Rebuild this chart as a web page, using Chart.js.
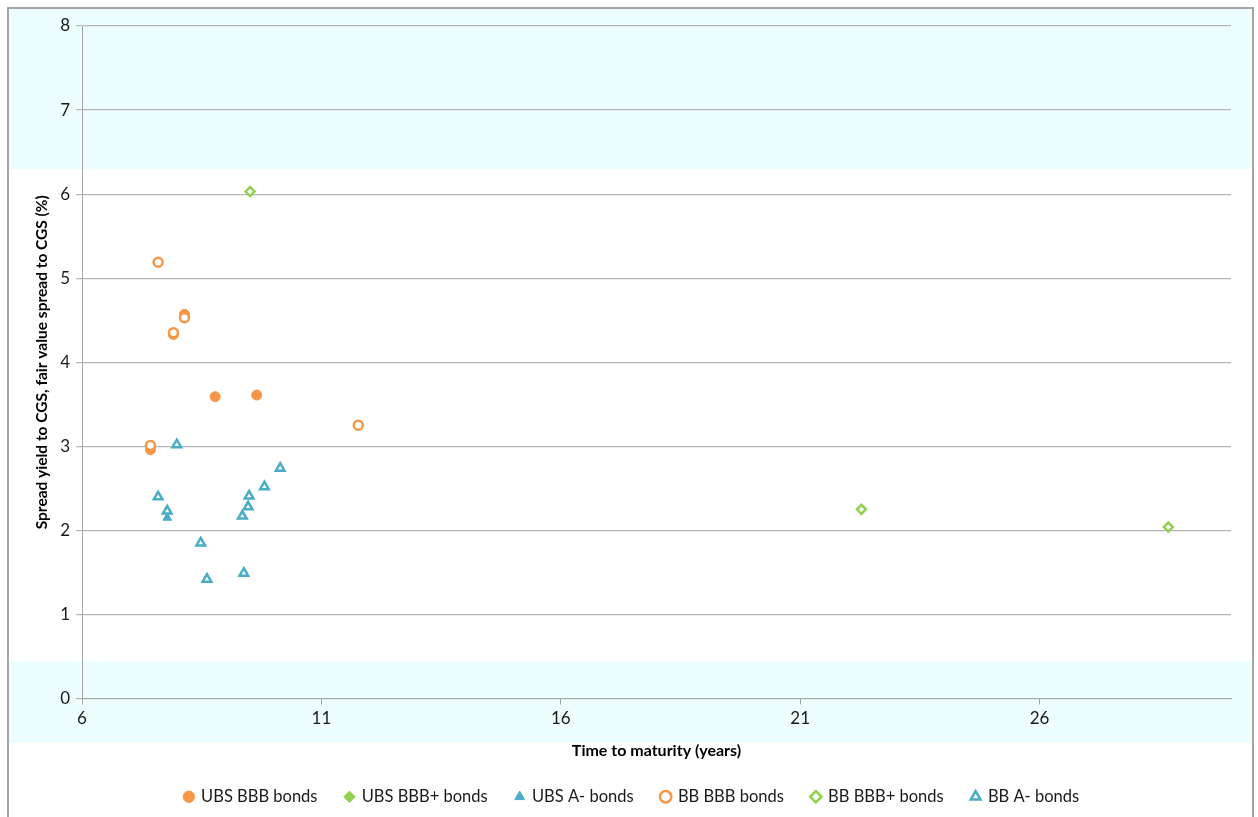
<!DOCTYPE html>
<html>
<head>
<meta charset="utf-8">
<script src="https://cdn.jsdelivr.net/npm/chart.js@4.4.1/dist/chart.umd.min.js"></script>
<style>
  html, body { margin: 0; padding: 0; background: #fff; }
  #wrap { width: 1258px; height: 817px; position: relative; }
</style>
</head>
<body>
<div id="wrap"><canvas id="bondChart"></canvas></div>
<script>
// tick labels
const xTicks = [6, 11, 16, 21, 26];
const yTicks = [0, 1, 2, 3, 4, 5, 6, 7, 8];

// UBS series (filled markers)
const ubsBBBx = [7.43, 7.91, 8.14, 8.78, 9.65];
const ubsBBBy = [2.96, 4.33, 4.57, 3.59, 3.61];
const ubsBBBplusX = [9.51, 22.28, 28.69];
const ubsBBBplusY = [6.03, 2.25, 2.04];
const ubsAx = [7.78];
const ubsAy = [2.15];

// Bloomberg series (hollow markers)
const bbBBBx = [7.59, 7.91, 8.14, 11.77, 7.43];
const bbBBBy = [5.19, 4.35, 4.53, 3.25, 3.01];
const bbBBBplusX = [9.51, 22.28, 28.69];
const bbBBBplusY = [6.03, 2.25, 2.04];
const bbAx = [7.98, 10.14, 9.81, 9.49, 9.47, 9.35, 7.59, 7.78, 8.48, 8.61, 9.38];
const bbAy = [3.02, 2.74, 2.52, 2.41, 2.28, 2.17, 2.40, 2.23, 1.85, 1.42, 1.49];

const orange = '#f79646';
const green = '#92d050';
const blue = '#4bacc6';

function pts(xs, ys) {
  return xs.map((x, i) => ({ x: x, y: ys[i] }));
}

// page frame and the pale cyan bands
const framePlugin = {
  id: 'frame',
  beforeDraw(chart) {
    const c = chart.ctx;
    c.save();
    c.fillStyle = '#ffffff';
    c.fillRect(0, 0, chart.width, chart.height);
    c.fillStyle = '#eefeff';
    c.fillRect(8, 8, 1245, 161);
    c.fillRect(8, 661, 1245, 82);
    c.strokeStyle = '#a6a6a6';
    c.lineWidth = 2;
    c.strokeRect(8, 8, 1245, 830);
    c.restore();
  }
};

new Chart(document.getElementById('bondChart'), {
  type: 'scatter',
  data: {
    datasets: [
      { label: 'UBS BBB bonds', data: pts(ubsBBBx, ubsBBBy), order: 1,
        pointStyle: 'circle', pointRadius: 5, backgroundColor: orange, borderColor: orange, pointBorderWidth: 1 },
      { label: 'UBS BBB+ bonds', data: pts(ubsBBBplusX, ubsBBBplusY), order: 1,
        pointStyle: 'rectRot', pointRadius: 4.5, backgroundColor: green, borderColor: green, pointBorderWidth: 1 },
      { label: 'UBS A- bonds', data: pts(ubsAx, ubsAy), order: 1,
        pointStyle: 'triangle', pointRadius: 5, backgroundColor: blue, borderColor: blue, pointBorderWidth: 1 },
      { label: 'BB BBB bonds', data: pts(bbBBBx, bbBBBy), order: 0,
        pointStyle: 'circle', pointRadius: 4.5, backgroundColor: '#ffffff', borderColor: orange, pointBorderWidth: 2.5 },
      { label: 'BB BBB+ bonds', data: pts(bbBBBplusX, bbBBBplusY), order: 0,
        pointStyle: 'rectRot', pointRadius: 4.5, backgroundColor: '#ffffff', borderColor: green, pointBorderWidth: 2.5 },
      { label: 'BB A- bonds', data: pts(bbAx, bbAy), order: 0,
        pointStyle: 'triangle', pointRadius: 5, backgroundColor: '#ffffff', borderColor: blue, pointBorderWidth: 2.5 }
    ]
  },
  options: {
    responsive: true,
    maintainAspectRatio: false,
    animation: false,
    layout: { padding: { left: 33, right: 27, top: 26, bottom: 2 } },
    plugins: {
      tooltip: { enabled: false },
      legend: {
        position: 'bottom',
        labels: {
          usePointStyle: true,
          boxWidth: 8,
          boxHeight: 8,
          padding: 28,
          color: '#1a1a1a',
          font: { family: 'Lato', size: 16.5 },
          sort: (a, b) => a.datasetIndex - b.datasetIndex
        }
      }
    },
    scales: {
      x: {
        type: 'linear',
        min: 6,
        max: 30,
        afterBuildTicks: (s) => { s.ticks = xTicks.map(v => ({ value: v })); },
        afterFit: (s) => { s.height = 62; },
        grid: { drawOnChartArea: false, drawTicks: true, tickLength: 6, color: '#a6a6a6' },
        border: { color: '#a6a6a6', width: 1 },
        ticks: { color: '#1a1a1a', font: { family: 'Lato', size: 17 }, padding: 4, maxRotation: 0 },
        title: { display: true, text: 'Time to maturity (years)', color: '#000',
                 font: { family: 'Lato', size: 16, weight: 'bold' }, padding: { top: 0, bottom: 0 } }
      },
      y: {
        min: 0,
        max: 8,
        afterBuildTicks: (s) => { s.ticks = yTicks.map(v => ({ value: v })); },
        afterFit: (s) => { s.width = 49; },
        grid: { color: '#b5b5b5', tickLength: 6, lineWidth: 1.2 },
        border: { color: '#a6a6a6', width: 1 },
        ticks: { color: '#1a1a1a', font: { family: 'Lato', size: 17 }, padding: 6 },
        title: { display: true, text: 'Spread yield to CGS, fair value spread to CGS (%)', color: '#000',
                 font: { family: 'Lato', size: 15.5, weight: 'bold' }, padding: { top: 0, bottom: 4 } }
      }
    }
  },
  plugins: [framePlugin]
});
</script>
</body>
</html>
